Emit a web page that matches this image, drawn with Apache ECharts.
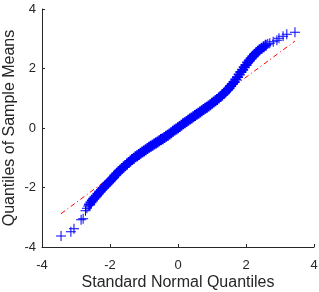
<!DOCTYPE html>
<html>
<head>
<meta charset="utf-8">
<script src="https://cdn.jsdelivr.net/npm/echarts@6/dist/echarts.min.js"></script>
<style>
html,body{margin:0;padding:0;background:#fff;}
#c{width:319px;height:292px;}
</style>
</head>
<body>
<div id="c"></div>
<script>
const xTicks = [-4, -2, 0, 2, 4];
const yTicks = [-4, -2, 0, 2, 4];
const theoreticalQuantiles = [
  -3.44, -3.15, -3.06, -2.85, -2.79, -2.72, -2.68, -2.64, -2.60, -2.56, -2.52, -2.48, -2.44,
  -2.40, -2.35, -2.30, -2.25, -2.20, -2.15, -2.10, -2.05, -2.00, -1.95, -1.90, -1.85, -1.80,
  -1.75, -1.70, -1.65, -1.60, -1.55, -1.50, -1.45, -1.40, -1.35, -1.30, -1.25, -1.20, -1.15,
  -1.10, -1.05, -1.00, -0.95, -0.90, -0.85, -0.80, -0.75, -0.70, -0.65, -0.60, -0.55, -0.50,
  -0.45, -0.40, -0.35, -0.30, -0.25, -0.20, -0.15, -0.10, -0.05, 0.00, 0.05, 0.10, 0.15,
  0.20, 0.25, 0.30, 0.35, 0.40, 0.45, 0.50, 0.55, 0.60, 0.65, 0.70, 0.75, 0.80, 0.85,
  0.90, 0.95, 1.00, 1.05, 1.10, 1.15, 1.20, 1.25, 1.30, 1.35, 1.40, 1.45, 1.50, 1.55,
  1.60, 1.65, 1.70, 1.75, 1.80, 1.85, 1.90, 1.95, 2.00, 2.05, 2.10, 2.15, 2.20, 2.25,
  2.30, 2.35, 2.40,
  2.46, 2.52, 2.58, 2.64, 2.70, 2.80, 2.91, 2.97, 3.09, 3.20, 3.44
];
const sampleQuantiles = [
  -3.63, -3.49, -3.39, -3.08, -3.05, -2.78, -2.70, -2.62, -2.57, -2.50, -2.44, -2.38, -2.33,
  -2.28, -2.21, -2.14, -2.08, -2.02, -1.96, -1.90, -1.84, -1.78, -1.72, -1.66, -1.59, -1.53,
  -1.47, -1.42, -1.36, -1.31, -1.26, -1.21, -1.16, -1.11, -1.06, -1.02, -0.97, -0.93, -0.89,
  -0.85, -0.81, -0.77, -0.73, -0.69, -0.65, -0.61, -0.58, -0.54, -0.50, -0.47, -0.43, -0.39,
  -0.36, -0.32, -0.28, -0.24, -0.20, -0.16, -0.11, -0.07, -0.03, 0.01, 0.05, 0.09, 0.14,
  0.18, 0.22, 0.26, 0.30, 0.34, 0.38, 0.42, 0.46, 0.50, 0.54, 0.58, 0.62, 0.66, 0.70,
  0.74, 0.78, 0.83, 0.87, 0.92, 0.96, 1.01, 1.06, 1.11, 1.16, 1.22, 1.28, 1.34, 1.41,
  1.48, 1.55, 1.63, 1.71, 1.80, 1.88, 1.96, 2.04, 2.12, 2.20, 2.27, 2.34, 2.40, 2.47,
  2.53, 2.58, 2.63,
  2.68, 2.73, 2.78, 2.82, 2.85, 2.90, 2.95, 3.02, 3.08, 3.15, 3.22
];
const refLineX = [-3.44, 3.44];
const refLineY = [-2.88, 2.92];

const xLabel = 'Standard Normal Quantiles';
const yLabel = 'Quantiles of Sample Means';

const plusThin = 'path://M4.5,0H5.5V4.5H10V5.5H5.5V10H4.5V5.5H0V4.5H4.5Z';
const plusThick = 'path://M4.1,0H5.9V4.1H10V5.9H5.9V10H4.1V5.9H0V4.1H4.1Z';
const font = '"Liberation Sans", Arial, Helvetica, sans-serif';
const txt = '#262626';

const points = theoreticalQuantiles.map((x, i) => [x, sampleQuantiles[i]]);
const inBand = p => p[0] >= -2.62 && p[0] <= 2.62;

const chart = echarts.init(document.getElementById('c'), null, {renderer: 'canvas'});
const axisCommon = {
  type: 'value', min: xTicks[0], max: xTicks[xTicks.length - 1], interval: 2,
  axisLine: {show: true, onZero: false, lineStyle: {color: txt, width: 1}},
  axisTick: {show: true, inside: true, length: 3, lineStyle: {color: txt}},
  splitLine: {show: false},
  nameLocation: 'middle',
  nameMoveOverlap: false,
  nameTextStyle: {fontFamily: font, fontSize: 16, color: txt}
};
chart.setOption({
  animation: false,
  backgroundColor: '#fff',
  grid: {left: 42, right: 5, top: 9, bottom: 45, containLabel: false, outerBoundsMode: 'none'},
  xAxis: Object.assign({}, axisCommon, {
    name: xLabel, nameGap: 28,
    axisLabel: {fontFamily: font, fontSize: 13, color: txt, margin: 12}
  }),
  yAxis: Object.assign({}, axisCommon, {
    min: yTicks[0], max: yTicks[yTicks.length - 1],
    name: yLabel, nameGap: 24,
    axisLabel: {fontFamily: font, fontSize: 13, color: txt, margin: 6}
  }),
  series: [
    {
      type: 'line', z: 1,
      data: refLineX.map((x, i) => [x, refLineY[i]]),
      symbol: 'none',
      lineStyle: {color: '#ff0000', width: 1, type: [5, 3, 1, 3]}
    },
    {
      type: 'scatter', z: 2,
      data: points.filter(p => !inBand(p)),
      symbol: plusThin, symbolSize: 10,
      itemStyle: {color: '#0000ff', opacity: 1}
    },
    {
      type: 'scatter', z: 2,
      data: points.filter(inBand),
      symbol: plusThick, symbolSize: 11,
      itemStyle: {color: '#0000ff', opacity: 1}
    }
  ]
});
</script>
</body>
</html>
